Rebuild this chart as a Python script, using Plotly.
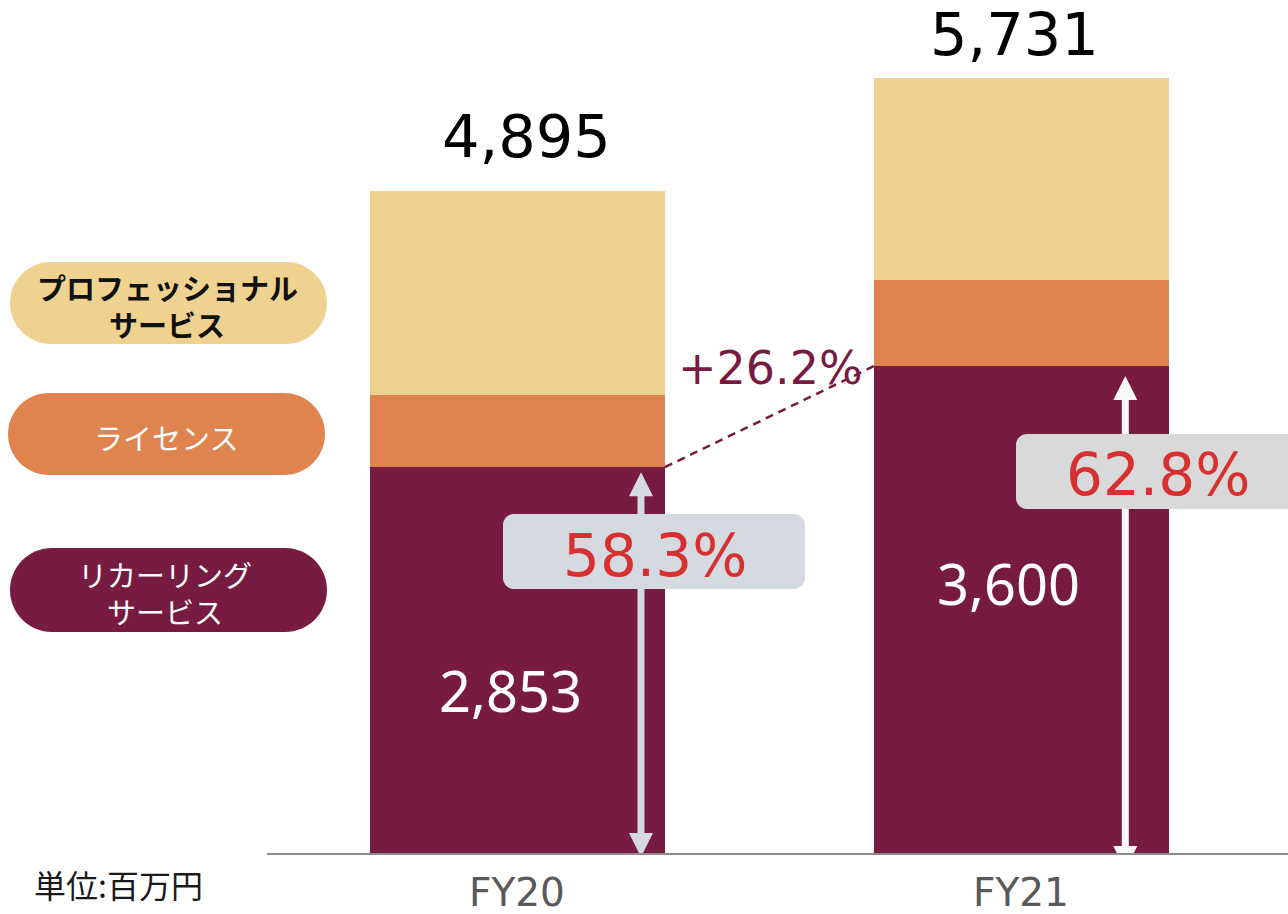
import plotly.graph_objects as go

# ---------------- data ----------------
categories = ["FY20", "FY21"]
recurring = [2853, 3600]
license_ = [534, 637]
professional = [1508, 1494]
totals = [4895, 5731]
recurring_share = ["58.3%", "62.8%"]
growth_label = "+26.2%"
unit_label = "単位:百万円"
legend_lines = [["プロフェッショナル", "サービス"], ["ライセンス"], ["リカーリング", "サービス"]]

# ---------------- styles ----------------
C_PROF = "#EFD290"
C_LIC = "#DF844F"
C_REC = "#771C40"
C_RED = "#D63031"
W, H = 1288, 914
X_DOMAIN = [267 / W, 1.0]
Y_DOMAIN = [61 / H, 1.0]
X_RANGE = [-0.497, 1.5288]
Y_RANGE = [0, 6307]
BAR_W = 0.585

plot_h_px = H * (Y_DOMAIN[1] - Y_DOMAIN[0])
plot_w_px = W * (X_DOMAIN[1] - X_DOMAIN[0])
UNITS_PER_PX_Y = (Y_RANGE[1] - Y_RANGE[0]) / plot_h_px
UNITS_PER_PX_X = (X_RANGE[1] - X_RANGE[0]) / plot_w_px


def px(x):
    return x / W


def py(y):
    return 1 - y / H


def rounded_rect(x0, y0, x1, y1, r):
    k = 0.5523 * r
    pts = [
        ("M", [(x0 + r, y0)]),
        ("L", [(x1 - r, y0)]),
        ("C", [(x1 - r + k, y0), (x1, y0 + r - k), (x1, y0 + r)]),
        ("L", [(x1, y1 - r)]),
        ("C", [(x1, y1 - r + k), (x1 - r + k, y1), (x1 - r, y1)]),
        ("L", [(x0 + r, y1)]),
        ("C", [(x0 + r - k, y1), (x0, y1 - r + k), (x0, y1 - r)]),
        ("L", [(x0, y0 + r)]),
        ("C", [(x0, y0 + r - k), (x0 + r - k, y0), (x0 + r, y0)]),
    ]
    s = ""
    for cmd, ps in pts:
        s += cmd + " " + " ".join(f"{px(a):.5f},{py(b):.5f}" for a, b in ps) + " "
    return s + "Z"


fig = go.Figure()
xs = list(range(len(categories)))
for vals, col in [(recurring, C_REC), (license_, C_LIC), (professional, C_PROF)]:
    fig.add_trace(go.Bar(x=xs, y=vals, width=BAR_W, marker=dict(color=col, line=dict(width=0)),
                         hoverinfo="skip", showlegend=False))

shapes = []
annotations = []

# legend pills
pill_boxes = [(10, 262, 327, 344), (8, 393, 325, 475), (10, 548, 327, 632)]
pill_cols = [C_PROF, C_LIC, C_REC]
pill_text_cols = ["#111111", "#FFFFFF", "#FFFFFF"]
pill_text_weight = ["bold", "normal", "normal"]
pill_line_y = [[287, 324], [437], [574, 611]]
pill_text_x = [167, 166, 165]
for (x0, y0, x1, y1), col, tcol, tw, ys, tx, lines in zip(pill_boxes, pill_cols, pill_text_cols,
                                                           pill_text_weight, pill_line_y,
                                                           pill_text_x, legend_lines):
    shapes.append(dict(type="path", xref="paper", yref="paper",
                       path=rounded_rect(x0, y0, x1, y1, (y1 - y0) / 2),
                       fillcolor=col, line=dict(width=0), layer="above"))
    for ty, lab in zip(ys, lines):
        annotations.append(dict(xref="paper", yref="paper", x=px(tx), y=py(ty), text=lab,
                                showarrow=False, xanchor="center", yanchor="middle", height=32,
                                font=dict(family="Noto Sans CJK JP", size=29, color=tcol, weight=tw)))

# dashed growth line between recurring tops
shapes.append(dict(type="line", xref="x", yref="y",
                   x0=0 + BAR_W / 2, y0=recurring[0], x1=1 - BAR_W / 2, y1=recurring[1],
                   line=dict(color=C_REC, width=2.5, dash="8px,6px"), layer="above"))

# double-headed arrows for recurring share
arrow_dx = [0.245, 0.206]
arrow_top_gap_px = [5, 10]
arrow_bottom_ext_px = [4, 17]
arrow_cols = ["#D5DAE0", "#FAFAFA"]
head_len_px, head_half_px, shaft_px = 24, 12, 7
for i in xs:
    ax = i + arrow_dx[i]
    y_top = recurring[i] - arrow_top_gap_px[i] * UNITS_PER_PX_Y
    y_bot = -arrow_bottom_ext_px[i] * UNITS_PER_PX_Y
    hl = head_len_px * UNITS_PER_PX_Y
    hw = head_half_px * UNITS_PER_PX_X
    shapes.append(dict(type="line", xref="x", yref="y", x0=ax, x1=ax, y0=y_bot + hl * 0.9, y1=y_top - hl * 0.9,
                       line=dict(color=arrow_cols[i], width=shaft_px), layer="above"))
    shapes.append(dict(type="path", xref="x", yref="y",
                       path=f"M {ax - hw},{y_top - hl} L {ax + hw},{y_top - hl} L {ax},{y_top} Z",
                       fillcolor=arrow_cols[i], line=dict(width=0), layer="above"))
    shapes.append(dict(type="path", xref="x", yref="y",
                       path=f"M {ax - hw},{y_bot + hl} L {ax + hw},{y_bot + hl} L {ax},{y_bot} Z",
                       fillcolor=arrow_cols[i], line=dict(width=0), layer="above"))

# grey percentage boxes
share_boxes = [(503, 514, 805, 589), (1016, 434, 1310, 509)]
share_box_cols = ["#D5DAE0", "#D9D9D9"]
for (x0, y0, x1, y1), col in zip(share_boxes, share_box_cols):
    shapes.append(dict(type="path", xref="paper", yref="paper",
                       path=rounded_rect(x0, y0, x1, y1, 11),
                       fillcolor=col, line=dict(width=0), layer="above"))

share_text_pos = [(655, 556), (1158, 475)]
for (tx, ty), lab in zip(share_text_pos, recurring_share):
    annotations.append(dict(xref="paper", yref="paper", x=px(tx), y=py(ty), text=lab,
                            showarrow=False, xanchor="center", yanchor="middle",
                            font=dict(family="DejaVu Sans", size=58, color=C_RED)))

# totals above bars
total_pos = [(526, 137), (1014, 35)]
for (tx, ty), v in zip(total_pos, totals):
    annotations.append(dict(xref="paper", yref="paper", x=px(tx), y=py(ty), text=f"{v:,}",
                            showarrow=False, xanchor="center", yanchor="middle",
                            font=dict(family="DejaVu Sans", size=59, color="#000000")))

# recurring values inside bars
rec_pos = [(510, 690), (1008, 583)]
for (tx, ty), v in zip(rec_pos, recurring):
    annotations.append(dict(xref="paper", yref="paper", x=px(tx), y=py(ty), text=f"{v:,}",
                            showarrow=False, xanchor="center", yanchor="middle",
                            font=dict(family="Noto Sans", size=56, color="#FFFFFF")))

# growth label
annotations.append(dict(xref="paper", yref="paper", x=px(770), y=py(368), text=growth_label,
                        showarrow=False, xanchor="center", yanchor="middle",
                        font=dict(family="DejaVu Sans", size=46, color=C_REC)))

# category labels
for i, cat in enumerate(categories):
    annotations.append(dict(xref="x", yref="paper", x=i, y=py(892), text=cat,
                            showarrow=False, xanchor="center", yanchor="middle", height=40,
                            font=dict(family="DejaVu Sans", size=39, color="#595959")))

# unit label
annotations.append(dict(xref="paper", yref="paper", x=px(118), y=py(884), text=unit_label,
                        showarrow=False, xanchor="center", yanchor="middle",
                        font=dict(family="Noto Sans CJK JP", size=32, color="#1A1A1A")))

fig.update_layout(
    width=W, height=H,
    margin=dict(l=0, r=0, t=0, b=0),
    barmode="stack", bargap=0,
    plot_bgcolor="white", paper_bgcolor="white",
    shapes=shapes, annotations=annotations,
    xaxis=dict(domain=X_DOMAIN, range=X_RANGE, showgrid=False, zeroline=False,
               showticklabels=False, ticks="", showline=True, linecolor="#8C8C8C", linewidth=2,
               fixedrange=True),
    yaxis=dict(domain=Y_DOMAIN, range=Y_RANGE, showgrid=False, zeroline=False,
               showticklabels=False, ticks="", showline=False, fixedrange=True),
)

fig.write_html("out.html", config={"displayModeBar": False},
               post_script="document.body.style.margin='0';document.body.style.overflow='hidden';")
